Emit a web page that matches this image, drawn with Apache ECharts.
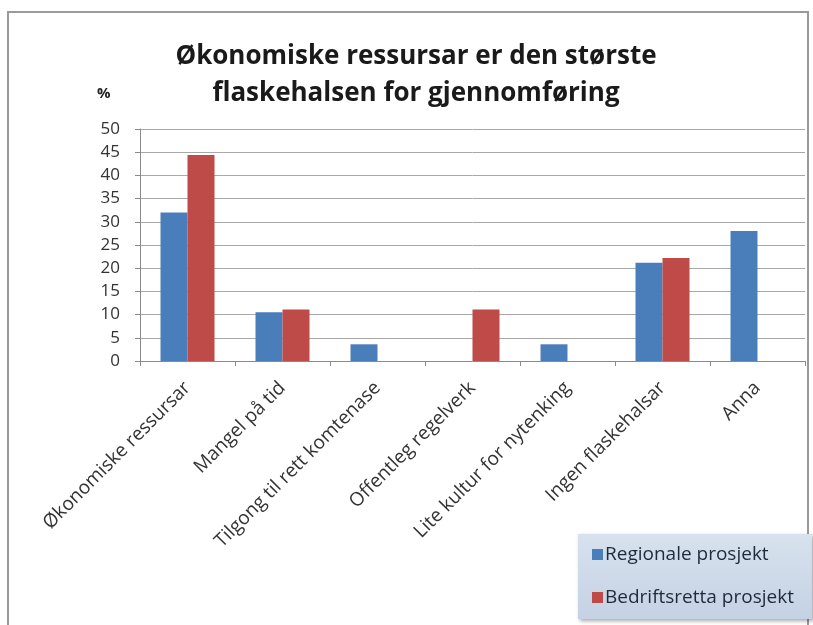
<!DOCTYPE html>
<html>
<head>
<meta charset="utf-8">
<script src="https://cdn.jsdelivr.net/npm/echarts@6/dist/echarts.min.js"></script>
<style>
  html, body { margin: 0; padding: 0; background: #fff; }
  #chart { width: 813px; height: 625px; }
</style>
</head>
<body>
<div id="chart"></div>
<script>
// data
var categories = ['Økonomiske ressursar', 'Mangel på tid', 'Tilgong til rett komtenase',
  'Offentleg regelverk', 'Lite kultur for nytenking', 'Ingen flaskehalsar', 'Anna'];
var regionale = [32, 10.5, 3.6, 0, 3.6, 21.2, 28];
var bedrift = [44.4, 11.1, 0, 11.1, 0, 22.2, 0];
var seriesNames = ['Regionale prosjekt', 'Bedriftsretta prosjekt'];

var font = 'Open Sans';
var myChart = echarts.init(document.getElementById('chart'));

var option = {
  animation: false,
  title: {
    text: 'Økonomiske ressursar er den største\nflaskehalsen for gjennomføring',
    left: 411,
    textAlign: 'center',
    top: 33,
    textStyle: {
      fontFamily: font,
      fontSize: 26,
      fontWeight: 'bold',
      color: '#1a1a1a',
      lineHeight: 37
    }
  },
  graphic: [
    {
      type: 'rect',
      shape: { x: 8, y: 12, width: 800, height: 620 },
      style: { fill: 'none', stroke: '#9a9a9a', lineWidth: 2 },
      z: -1
    },
    {
      type: 'text',
      left: 97,
      top: 86,
      style: { text: '%', fontFamily: font, fontSize: 15, fontWeight: 'bold', fill: '#222' }
    }
  ],
  legend: {
    orient: 'vertical',
    left: 578,
    top: 534,
    width: 228,
    itemWidth: 11,
    itemHeight: 11,
    itemGap: 24,
    padding: [11, 18, 12, 14],
    backgroundColor: new echarts.graphic.LinearGradient(0, 0, 0, 1, [
      { offset: 0, color: '#d8e2ee' },
      { offset: 1, color: '#c4d2e4' }
    ]),
    shadowColor: 'rgba(0,0,0,0.35)',
    shadowBlur: 4,
    shadowOffsetX: 2,
    shadowOffsetY: 2,
    icon: 'rect',
    textStyle: { fontFamily: font, fontSize: 19, color: '#1f2a3a', padding: [0, 0, 0, -3] },
    data: seriesNames
  },
  grid: {
    left: 140,
    right: 8,
    top: 129,
    bottom: 264
  },
  xAxis: {
    type: 'category',
    data: categories,
    axisLine: { lineStyle: { color: '#8a8a8a' } },
    axisTick: { show: true, length: 5, lineStyle: { color: '#8a8a8a' } },
    axisLabel: {
      interval: 0,
      rotate: 45,
      margin: 24,
      fontFamily: font,
      fontSize: 19,
      color: '#333'
    }
  },
  yAxis: {
    type: 'value',
    min: 0,
    max: 50,
    interval: 5,
    axisLine: { show: true, lineStyle: { color: '#8a8a8a' } },
    axisTick: { show: true, length: 5, lineStyle: { color: '#8a8a8a' } },
    splitLine: { lineStyle: { color: '#a8a8a8', width: 1 } },
    axisLabel: {
      margin: 20,
      fontFamily: font,
      fontSize: 17,
      color: '#333'
    }
  },
  series: [
    {
      name: seriesNames[0],
      type: 'bar',
      data: regionale,
      barWidth: 27,
      barGap: '0%',
      itemStyle: { color: '#4a7ebb' }
    },
    {
      name: seriesNames[1],
      type: 'bar',
      data: bedrift,
      barWidth: 27,
      itemStyle: { color: '#be4b48' }
    }
  ]
};

myChart.setOption(option);
</script>
</body>
</html>
